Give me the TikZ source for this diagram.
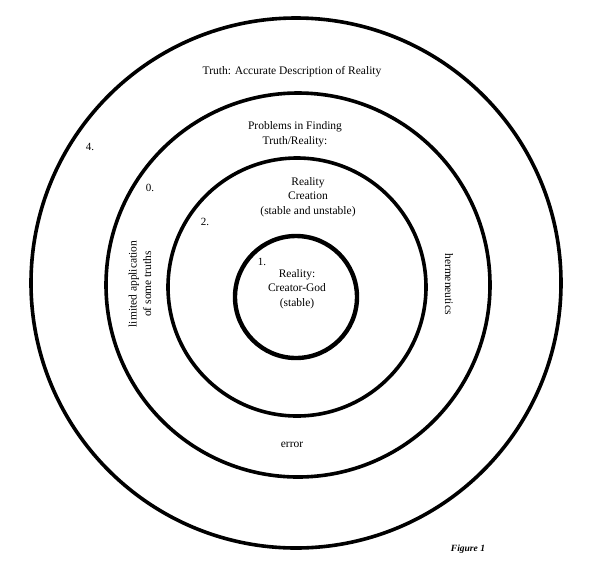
\documentclass[tikz,border=0pt]{standalone}
\usepackage{fontspec}
\setmainfont{Liberation Serif}
\tikzset{
  ring/.style={line width=3.6pt},
  label/.style={font=\fontsize{11.5}{14.5}\selectfont, align=center, inner sep=0pt},
  numero/.style={font=\fontsize{11}{13}\selectfont, inner sep=0pt}
}
\begin{document}
\begin{tikzpicture}[x=1pt, y=-1pt]
    \useasboundingbox (0,0) rectangle (591,582);

    % Cerchi concentrici
    \draw[ring] (296,283) circle[radius=265pt];
    \draw[ring] (298,285) circle[radius=192pt];
    \draw[ring] (297,287) circle[radius=129pt];
    \draw[ring, line width=4.4pt] (296,297) circle[radius=61pt];

    % Testi dell'anello esterno
    \node[label] (truth) at (292,72) {Truth: Accurate Description of Reality};
    \node[numero] (n4) at (90,147) {4.};

    % Testi del secondo anello
    \node[label] (problems) at (295,134) {Problems in Finding\\Truth/Reality:};
    \node[numero] (n0) at (150,188) {0.};
    \node[label, rotate=90] (limited) at (140,284) {limited application\\of some truths};
    \node[label, rotate=-90] (herm) at (449,284) {hermeneutics};
    \node[label] (error) at (292,445) {error};

    % Testi del terzo anello
    \node[label] (creation) at (308,197) {Reality\\Creation\\(stable and unstable)};
    \node[numero] (n2) at (205,222) {2.};

    % Cerchio interno
    \node[numero] (n1) at (262,262) {1.};
    \node[label] (god) at (297,289) {Reality:\\Creator-God\\(stable)};

    % Didascalia
    \node[font=\fontsize{9.5}{11}\selectfont\itshape\bfseries] (fig) at (468,549) {Figure 1};
\end{tikzpicture}
\end{document}
